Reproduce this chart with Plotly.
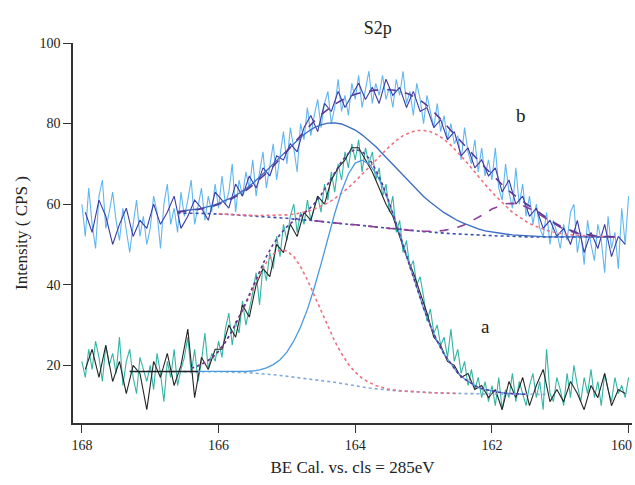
import plotly.graph_objects as go

# ---------------- data ----------------
# raw spectrum b (upper), light trace: 168.00 -> 160.00 eV, step 0.05
b_light = [60, 52, 64, 55, 49, 62, 66, 54, 58, 63,
           56, 51, 59, 53, 48, 55, 61, 52, 57, 50,
           54, 62, 58, 49, 60, 65, 55, 59, 53, 63,
           57, 61, 66, 55, 60, 64, 56, 62, 58, 65,
           59, 67, 60, 63, 70, 58, 66, 62, 68, 64,
           71, 62, 68, 73, 64, 70, 75, 66, 72, 78,
           70, 79, 74, 68, 80, 76, 84, 77, 82, 86,
           79, 85, 88, 80, 84, 91, 83, 87, 82, 90,
           86, 92, 84, 89, 93, 85, 90, 87, 92, 86,
           89, 84, 91, 87, 93, 85, 88, 82, 90, 86,
           80, 87, 83, 79, 85, 78, 82, 76, 80, 75,
           77, 71, 79, 73, 70, 76, 68, 74, 67, 71,
           66, 74, 64, 61, 70, 63, 59, 69, 60, 65,
           57, 62, 55, 60, 54, 52, 58, 50, 56, 53,
           49, 55, 51, 58, 60, 48, 53, 45, 56, 50,
           46, 55, 51, 43, 57, 49, 53, 44, 59, 50,
           62]
# raw spectrum b, dark trace: 167.95 -> 160.05 eV, step 0.1
b_dark = [58, 53, 61, 57, 50, 55, 59, 52, 56, 54,
          60, 55, 58, 62, 54, 57, 61, 59, 56, 63,
          61, 59, 65, 62, 67, 64, 69, 67, 72, 71,
          75, 73, 79, 82, 78, 85, 83, 88, 84, 87,
          90, 86, 89, 85, 91, 87, 89, 84, 88, 83,
          84, 79, 81, 76, 78, 72, 74, 69, 71, 67,
          69, 63, 66, 60, 62, 57, 59, 54, 56, 52,
          54, 50, 56, 48, 53, 49, 55, 47, 52, 50]
# raw spectrum a (lower), light trace: 168.00 -> 160.00 eV, step 0.05
a_light = [21, 17, 24, 19, 26, 22, 16, 25, 20, 23,
           18, 27, 15, 21, 24, 17, 13, 22, 19, 16,
           20, 14, 23, 18, 11, 21, 17, 24, 15, 19,
           22, 27, 18, 24, 16, 21, 28, 19, 23, 21,
           26, 22, 29, 33, 25, 31, 28, 36, 30, 34,
           38, 43, 35, 45, 41, 48, 44, 52, 47, 55,
           51, 57, 60, 53, 58, 55, 61, 56, 59, 62,
           58, 65, 61, 68, 63, 70, 66, 73, 69, 75,
           71, 76, 68, 74, 70, 73, 66, 69, 62, 65,
           58, 62, 53, 56, 48, 51, 44, 46, 40, 42,
           37, 31, 34, 28, 30, 25, 27, 22, 29, 21,
           24, 18, 21, 15, 19, 14, 17, 12, 16, 11,
           15, 10, 17, 9, 14, 12, 18, 11, 16, 13,
           10, 15, 18, 12, 16, 9, 24, 13, 11, 17,
           14, 10, 18, 12, 20, 15, 11, 17, 13, 19,
           12, 16, 10, 18, 14, 11, 17, 13, 15, 12,
           17]
# raw spectrum a, dark trace: 167.95 -> 160.05 eV, step 0.1
a_dark = [19, 24, 17, 25, 16, 21, 13, 20, 18, 9,
          21, 17, 23, 15, 20, 29, 12, 22, 19, 24,
          24, 30, 27, 35, 32, 40, 44, 42, 50, 48,
          55, 52, 58, 56, 62, 60, 66, 69, 71, 74,
          74, 71, 68, 64, 60, 57, 52, 47, 43, 38,
          33, 27, 25, 21, 20, 17, 18, 14, 15, 12,
          14, 9, 16, 12, 17, 10, 15, 19, 11, 14,
          11, 16, 13, 9, 15, 12, 18, 10, 14, 13]

# fitted curves for b, step 0.1 eV
b_envelope = [58.0, 58.2, 58.4, 58.7, 59.0, 59.4, 60.0, 60.6, 61.4, 62.3,
              63.4, 64.7, 66.1, 67.7, 69.4, 71.2, 73.1, 75.0, 77.0, 78.9,
              80.6, 82.2, 83.6, 84.8, 85.8, 86.6, 87.3, 87.8, 88.1, 88.3,
              88.4, 88.4, 88.2, 87.8, 87.2, 86.3, 85.2, 83.8, 82.1, 80.2,
              78.3, 76.4, 74.5, 72.7, 70.9, 69.1, 67.4, 65.6, 64.0, 62.6,
              61.3, 60.1, 59.0, 57.8, 56.6, 55.5, 54.6, 53.8, 53.2, 52.7,
              52.4, 52.2, 52.0, 51.9, 51.9]            # 166.6 -> 160.2
b_blue = [58.2, 58.4, 58.6, 58.8, 59.2, 59.6, 60.2, 60.9, 61.7, 62.7,
          63.8, 65.2, 66.7, 68.3, 70.0, 71.7, 73.4, 75.0, 76.6, 77.9,
          79.0, 79.7, 80.1, 80.2, 79.9, 79.2, 78.4, 77.2, 75.8, 74.3,
          72.5, 70.7, 69.0, 67.1, 65.3, 63.6, 61.9, 60.5, 59.1, 57.9,
          56.9, 55.9, 55.2, 54.5, 53.9, 53.4, 53.1, 52.8, 52.6, 52.4,
          52.3, 52.1, 52.0, 52.0, 51.9, 51.9, 51.9, 51.9, 51.9, 51.9,
          51.9, 51.9, 51.9, 51.9, 51.9]                # 166.6 -> 160.2
b_baseline = [57.8, 57.8, 57.8, 57.7, 57.7, 57.6, 57.6, 57.5, 57.4, 57.3,
              57.2, 57.1, 57.0, 56.9, 56.8, 56.6, 56.5, 56.3, 56.2, 56.0,
              55.9, 55.7, 55.5, 55.4, 55.2, 55.0, 54.9, 54.7, 54.5, 54.4,
              54.2, 54.0, 53.9, 53.7, 53.5, 53.4, 53.2, 53.1, 52.9, 52.8,
              52.7, 52.6, 52.5, 52.4, 52.3, 52.2, 52.2, 52.1, 52.1, 52.0,
              52.0, 51.9, 51.9, 51.9, 51.9, 51.9, 51.9, 51.9, 51.9, 51.9,
              51.9, 51.9, 51.9, 51.9, 51.9]            # 166.6 -> 160.2
b_red = [57.6, 57.5, 57.45, 57.4, 57.3, 57.2, 57.2, 57.2, 57.2, 57.2,
         57.35, 57.5, 57.8, 58.2, 58.8, 59.5, 60.3, 61.4, 62.7, 64.1,
         65.7, 67.4, 69.1, 71.0, 72.7, 74.3, 75.8, 77.0, 77.8, 78.3,
         78.3, 78.0, 77.2, 76.1, 74.6, 72.9, 71.0, 69.0, 66.9, 64.9,
         63.0, 61.2, 59.6, 58.0, 56.8, 55.7, 54.8, 54.1, 53.5, 53.1,
         52.75, 52.5, 52.3, 52.2, 52.1, 52.0, 52.0, 51.95, 51.9]   # 166.0 -> 160.2
b_small = [55.9, 55.7, 55.5, 55.4, 55.2, 55.0, 54.9, 54.7, 54.5, 54.4,
           54.2, 54.0, 53.9, 53.7, 53.5, 53.5, 53.3, 53.3, 53.3, 53.5,
           53.8, 54.3, 54.9, 55.8, 56.7, 57.7, 58.8, 59.5, 60.1, 60.2,
           60.0, 59.3, 58.5, 57.4, 56.3, 55.3, 54.3, 53.6, 53.0, 52.6,
           52.3, 52.1, 52.0, 52.0, 51.9]               # 164.6 -> 160.2

# fitted curves for a, step 0.1 eV
a_baseline = [18.5, 18.5, 18.5, 18.5, 18.5, 18.5, 18.5, 18.5, 18.5, 18.5, 18.5,
              18.5, 18.4, 18.4, 18.4, 18.3, 18.3, 18.2, 18.1, 18.0, 17.9,
              17.7, 17.5, 17.3, 17.1, 16.9, 16.7, 16.5, 16.3, 16.0, 15.8,
              15.5, 15.2, 14.9, 14.6, 14.4, 14.2, 14.0, 13.8, 13.7, 13.6,
              13.5, 13.4, 13.3, 13.2, 13.2, 13.1, 13.1, 13.0, 13.0, 13.0,
              12.9, 12.9, 12.9, 12.9, 12.8, 12.8, 12.8, 12.8, 12.8, 12.8, 12.8]  # 167.3 -> 161.2
a_red = [19.3, 19.9, 20.7, 21.8, 23.5, 25.8, 28.5, 31.8, 35.3, 39.0,
         42.5, 45.5, 47.6, 48.6, 48.4, 47.0, 44.5, 41.2, 37.4, 33.4,
         29.5, 26.0, 22.9, 20.3, 18.3, 16.8, 15.8, 15.0, 14.5, 14.05,
         13.8, 13.65, 13.5, 13.4, 13.3, 13.2, 13.2, 13.1, 13.1, 13.0]   # 166.4 -> 162.5
a_blue = [18.5, 18.5, 18.4, 18.4, 18.4, 18.4, 18.45, 18.5, 18.6, 18.9,
          19.4, 20.2, 21.4, 23.3, 26.0, 29.5, 33.9, 39.2, 45.2, 51.5,
          57.7, 63.2, 67.5, 70.2, 70.9, 70.0, 67.8, 64.4, 60.1, 55.2,
          49.9, 44.5, 39.2, 34.2, 29.8, 26.0, 22.8, 20.3, 18.1, 16.6,
          15.5, 14.5, 14.0, 13.6, 13.35, 13.1, 13.0, 12.9, 12.8]        # 166.3 -> 161.5
a_envelope = [19.3, 19.9, 20.7, 21.8, 23.5, 25.8, 28.6, 31.9, 35.6, 39.5,
              43.4, 47.0, 50.1, 52.5, 54.4, 55.9, 57.1, 58.4, 60.1, 62.3,
              65.0, 67.9, 70.6, 72.6, 73.6, 73.1, 71.4, 68.6, 64.9, 60.35,
              55.3, 49.95, 44.5, 39.2, 34.2, 29.8, 26.0, 22.8, 20.3, 18.1,
              16.6, 15.5, 14.5, 14.0, 13.6, 13.35, 13.1, 13.0, 12.9, 12.8]  # 166.4 -> 161.5

x_ticks = [168, 166, 164, 162, 160]
x_tick_labels = ["168", "166", "164", "162", ""]   # last one drawn as an annotation (kept inside the page)
y_ticks = [20, 40, 60, 80, 100]

# ---------------- figure ----------------
fig = go.Figure()

def raw(y, x0, dx, color, width=1.1):
    fig.add_trace(go.Scatter(x0=x0, dx=dx, y=y, mode="lines",
                             line=dict(color=color, width=width),
                             hoverinfo="skip", showlegend=False))

def fit(y, x0, color, dash="dot", width=1.6):
    fig.add_trace(go.Scatter(x0=x0, dx=-0.1, y=y, mode="lines",
                             line=dict(color=color, width=width, dash=dash),
                             hoverinfo="skip", showlegend=False))

# raw data
raw(b_light, 168.0, -0.05, "#62b6ef")
raw(b_dark, 167.95, -0.1, "#3b3ba6")
raw(a_light, 168.0, -0.05, "#35b5a6")
raw(a_dark, 167.95, -0.1, "#262626")

# fits b
fit(b_baseline, 166.6, "#3550b0")
fit(b_blue, 166.6, "#3a6cc4", dash="solid", width=1.3)
fit(b_red, 166.0, "#f07080")
fit(b_small, 164.6, "#8a3f9a", dash="dash")
fit(b_envelope, 166.6, "#5c3896", dash="dash")

# fits a
fit(a_baseline, 167.3, "#80a8dc")
fit(a_baseline[:11], 167.3, "#222222", dash="solid", width=1.5)
fit(a_blue, 166.3, "#4a9ae0", dash="solid", width=1.3)
fit(a_red, 166.4, "#f07080")
fit(a_envelope, 166.4, "#5c3896", dash="dot")

font_family = "Liberation Serif"

fig.update_layout(
    width=635, height=485,
    margin=dict(l=73, r=3, t=43, b=62, autoexpand=False),
    paper_bgcolor="white", plot_bgcolor="white",
    font=dict(family=font_family, color="#222222"),
    title=dict(text="S2p", x=0.595, xanchor="center", y=0.942, yanchor="middle",
               automargin=False,
               font=dict(size=18, family=font_family, color="#222222")),
    xaxis=dict(range=[168.13, 159.95], tickvals=x_ticks, ticktext=x_tick_labels,
               automargin=False,
               showgrid=False, zeroline=False, showline=True,
               linecolor="#333333", linewidth=1.6,
               ticks="outside", ticklen=8, tickwidth=1.4, tickcolor="#333333",
               tickfont=dict(size=14, family=font_family),
               title=dict(text="BE Cal. vs. cls = 285eV", standoff=10,
                          font=dict(size=17, family=font_family))),
    yaxis=dict(range=[5.7, 100], tickvals=y_ticks, automargin=False,
               showgrid=False, zeroline=False, showline=True,
               linecolor="#333333", linewidth=1.6,
               ticks="outside", ticklen=8, tickwidth=1.4, tickcolor="#333333",
               tickfont=dict(size=14, family=font_family),
               title=dict(text="Intensity ( CPS )", standoff=7,
                          font=dict(size=17, family=font_family))),
    annotations=[
        dict(x=161.58, y=82, xref="x", yref="y", text="b", showarrow=False,
             font=dict(size=19, family=font_family, color="#222222")),
        dict(x=162.1, y=29.6, xref="x", yref="y", text="a", showarrow=False,
             font=dict(size=19, family=font_family, color="#222222")),
        dict(x=x_ticks[-1], y=0, xref="x", yref="paper", text="160",
             showarrow=False, xanchor="right", yanchor="top",
             xshift=5, yshift=-13,
             font=dict(size=14, family=font_family, color="#222222")),
    ],
)

fig.write_html("out.html",
               config={"displayModeBar": False},
               post_script="document.body.style.margin='0';"
                           "document.body.style.overflow='hidden';")
